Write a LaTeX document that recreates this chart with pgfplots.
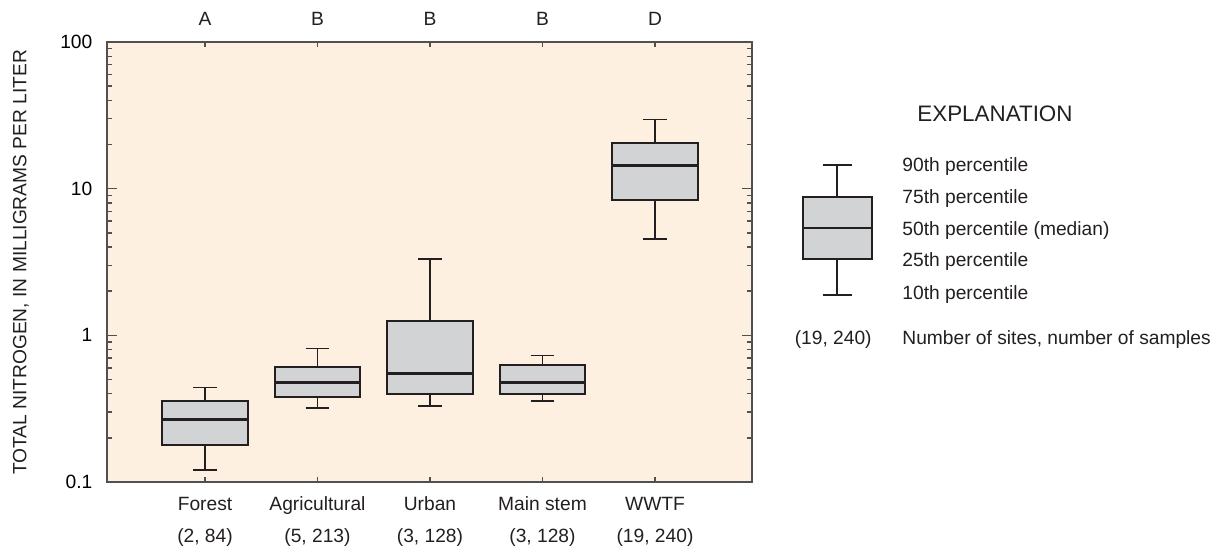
\documentclass[border=0pt]{standalone}
\usepackage{pgfplots}
\pgfplotsset{compat=1.18}
\usepgfplotslibrary{statistics}
\usepackage{fontspec}
\setmainfont{Liberation Sans}
\definecolor{bgpeach}{RGB}{253,240,225}
\definecolor{boxgray}{RGB}{209,211,212}
\definecolor{linecol}{RGB}{35,31,32}
\definecolor{axiscol}{RGB}{80,80,82}
\newcommand\fnt{\fontsize{9.6}{11.5}\selectfont}
\newcommand\fntbig{\fontsize{11.2}{13.4}\selectfont}
\begin{document}
\begin{tikzpicture}
\path[use as bounding box] (0,0) rectangle (606pt,275pt);
\begin{axis}[
  at={(53.5pt,34pt)}, anchor=south west,
  scale only axis, width=322.5pt, height=220pt,
  xmin=0.129, xmax=5.862, ymode=log, ymin=0.1, ymax=100,
  axis background/.style={fill=bgpeach},
  axis line style={axiscol, line width=0.9pt},
  xtick={1,2,3,4,5}, xticklabels={},
  ytick={0.1,1,10,100}, yticklabels={0.1,1,10,100},
  minor ytick={0.2,0.3,0.4,0.5,0.6,0.7,0.8,0.9,2,3,4,5,6,7,8,9,20,30,40,50,60,70,80,90},
  tick align=inside, xtick pos=both, ytick pos=both,
  major tick length=5pt, minor tick length=2.5pt,
  xtick style={/pgfplots/major tick length=2.5pt},
  tick style={axiscol, line width=0.7pt},
  yticklabel style={font=\fnt, xshift=-3.8pt},
  clip=false,
  boxplot/draw direction=y,
  boxplot/every median/.style={line width=1.5pt},
  boxplot/every whisker/.style={line width=0.8pt},
  boxplot/every box/.style={line width=1pt},
]
% Forest
\addplot[boxplot prepared={draw position=1, lower whisker=0.121, lower quartile=0.179, median=0.266, upper quartile=0.357, upper whisker=0.44, box extend=0.76, whisker extend=0.21}, draw=linecol, fill=boxgray] coordinates {};
% Agricultural
\addplot[boxplot prepared={draw position=2, lower whisker=0.319, lower quartile=0.381, median=0.475, upper quartile=0.611, upper whisker=0.815, box extend=0.76, whisker extend=0.21}, draw=linecol, fill=boxgray] coordinates {};
% Urban
\addplot[boxplot prepared={draw position=3, lower whisker=0.331, lower quartile=0.398, median=0.547, upper quartile=1.25, upper whisker=3.31, box extend=0.76, whisker extend=0.21}, draw=linecol, fill=boxgray] coordinates {};
% Main stem
\addplot[boxplot prepared={draw position=4, lower whisker=0.357, lower quartile=0.398, median=0.475, upper quartile=0.63, upper whisker=0.73, box extend=0.76, whisker extend=0.21}, draw=linecol, fill=boxgray] coordinates {};
% WWTF
\addplot[boxplot prepared={draw position=5, lower whisker=4.55, lower quartile=8.36, median=14.4, upper quartile=20.6, upper whisker=29.7, box extend=0.76, whisker extend=0.21}, draw=linecol, fill=boxgray] coordinates {};
% Explanation box
\addplot[boxplot prepared={draw position=6.62, lower whisker=1.88, lower quartile=3.31, median=5.36, upper quartile=8.77, upper whisker=14.5, box extend=0.613, whisker extend=0.26}, boxplot/every median/.style={line width=1pt}, draw=linecol, fill=boxgray] coordinates {};
\end{axis}
\begin{scope}[x=0.5pt,y=-0.5pt,yshift=275pt]
\node[rotate=90, font=\fnt, text=linecol] at (21,262.5) {TOTAL NITROGEN, IN MILLIGRAMS PER LITER};
\foreach \xx/\lab in {205/A,317.5/B,430/B,542.5/B,655/D}
  \node[anchor=base, font=\fnt, inner sep=0, text=linecol] at (\xx,26) {\lab};
\foreach \xx/\lab/\nn in {205/Forest/{(2, 84)},317.5/Agricultural/{(5, 213)},430/Urban/{(3, 128)},542.5/Main stem/{(3, 128)},655/WWTF/{(19, 240)}}{
  \node[anchor=base, font=\fnt, inner sep=0, text=linecol] at (\xx,510.7) {\lab};
  \node[anchor=base, font=\fnt, inner sep=0, text=linecol] at (\xx,543) {\nn};
}
\node[anchor=base west, font=\fntbig, inner sep=0, text=linecol] at (917,121.7) {EXPLANATION};
\node[anchor=base west, font=\fnt, inner sep=0, text=linecol] at (902,171.9) {90th percentile};
\node[anchor=base west, font=\fnt, inner sep=0, text=linecol] at (902,203.6) {75th percentile};
\node[anchor=base west, font=\fnt, inner sep=0, text=linecol] at (902,235.2) {50th percentile (median)};
\node[anchor=base west, font=\fnt, inner sep=0, text=linecol] at (902,266.9) {25th percentile};
\node[anchor=base west, font=\fnt, inner sep=0, text=linecol] at (902,299.2) {10th percentile};
\node[anchor=base east, font=\fnt, inner sep=0, text=linecol] at (872,345) {(19, 240)};
\node[anchor=base west, font=\fnt, inner sep=0, text=linecol] at (902,345) {Number of sites, number of samples};
\end{scope}
\end{tikzpicture}
\end{document}
